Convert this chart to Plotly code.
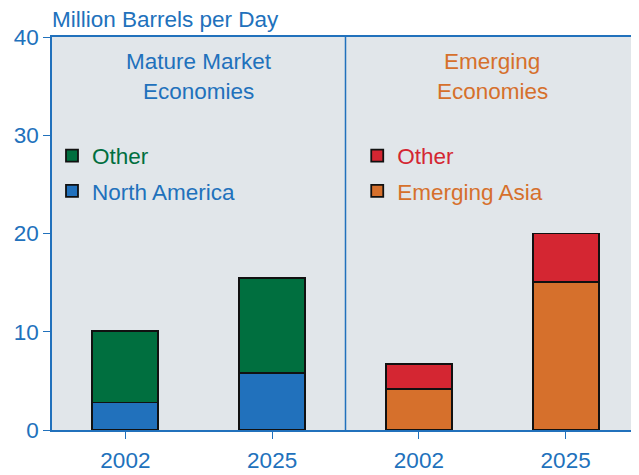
import plotly.graph_objects as go

years = ["2002", "2025", "2002", "2025"]
groups = ["Mature Market<br>Economies", "Emerging<br>Economies"]
north_america = [2.8, 5.8, None, None]
mature_other = [7.3, 9.7, None, None]
emerging_asia = [None, None, 4.2, 15.1]
emerging_other = [None, None, 2.5, 4.9]
y_ticks = [0, 10, 20, 30, 40]

BLUE = "#2171bc"
GREEN = "#006f3f"
ORANGE = "#d6702c"
RED = "#d42632"
BG = "#e1e6ea"
FONT = "Liberation Sans, Arial, sans-serif"
FS = 22.5

pos = list(range(len(years)))
line = dict(color="#111111", width=1.8)

fig = go.Figure()
fig.add_trace(go.Bar(x=pos, y=north_america, name=f'<span style="color:{BLUE}">North America</span>',
                     marker=dict(color=BLUE, line=line), legend="legend", legendgroup="a", legendrank=2))
fig.add_trace(go.Bar(x=pos, y=mature_other, name=f'<span style="color:{GREEN}">Other</span>',
                     marker=dict(color=GREEN, line=line), legend="legend", legendgroup="b", legendrank=1))
fig.add_trace(go.Bar(x=pos, y=emerging_asia, name=f'<span style="color:{ORANGE}">Emerging Asia</span>',
                     marker=dict(color=ORANGE, line=line), legend="legend2", legendgroup="c", legendrank=2))
fig.add_trace(go.Bar(x=pos, y=emerging_other, name=f'<span style="color:{RED}">Other</span>',
                     marker=dict(color=RED, line=line), legend="legend2", legendgroup="d", legendrank=1))

fig.add_shape(type="line", x0=1.5, x1=1.5, y0=0, y1=40, xref="x", yref="y",
              line=dict(color=BLUE, width=1.5))

for gx, (label, col) in zip([0.5, 2.5], zip(groups, [BLUE, ORANGE])):
    for i, part in enumerate(label.split("<br>")):
        fig.add_annotation(x=gx, y=1, xref="x", yref="paper", yanchor="middle", yshift=-24 - 30 * i,
                           text=part, showarrow=False, font=dict(color=col, size=FS, family=FONT))

fig.add_annotation(x=0, y=1, xref="paper", yref="paper", xanchor="left", yanchor="bottom",
                   text="Million Barrels per Day", showarrow=False, yshift=3, xshift=-2,
                   font=dict(color=BLUE, size=FS, family=FONT))

leg = dict(bgcolor="rgba(0,0,0,0)", traceorder="grouped", font=dict(size=FS, family=FONT),
           yanchor="top", xanchor="left", tracegroupgap=3)
fig.update_layout(
    width=631, height=467,
    margin=dict(l=44, r=0, t=29, b=45),
    paper_bgcolor="white", plot_bgcolor=BG,
    barmode="stack", bargap=0.55,
    font=dict(family=FONT, color=BLUE, size=FS),
    showlegend=True,
    legend=dict(leg, x=0.0, y=0.752),
    legend2=dict(leg, x=0.52, y=0.752),
    xaxis=dict(range=[-0.5, 3.5], tickvals=pos, ticktext=years, showline=True, linecolor=BLUE,
               linewidth=1.5, mirror=True, ticks="outside", tickcolor=BLUE, ticklen=7,
               ticklabelstandoff=2, automargin=False,
               showgrid=False, zeroline=False, tickfont=dict(size=FS, color=BLUE)),
    yaxis=dict(range=[0, 40], tickvals=y_ticks, showline=True, linecolor=BLUE, linewidth=1.5,
               ticks="outside", tickcolor=BLUE, ticklen=7, showgrid=False, zeroline=False,
               automargin=False, tickfont=dict(size=FS, color=BLUE)),
)

fig.write_html("out.html")
